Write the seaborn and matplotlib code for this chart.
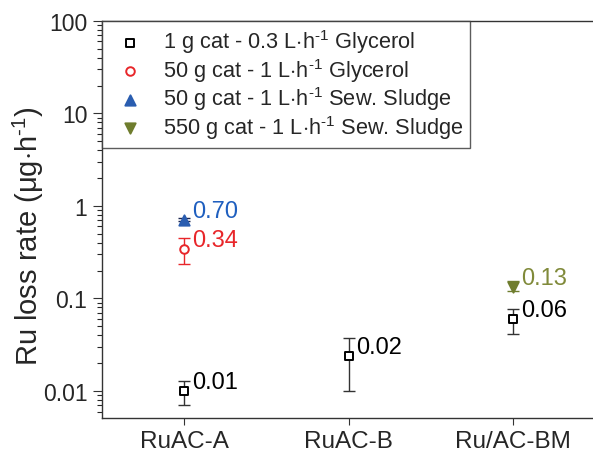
#!/usr/bin/env python3
"""
    Ru loss rate per catalyst, log scale with error bars
"""
import matplotlib
matplotlib.use("Agg")
import matplotlib.pyplot as plt
from matplotlib.ticker import LogLocator, NullFormatter
import seaborn as sns
import pandas as pd

catalysts = ["RuAC-A", "RuAC-B", "Ru/AC-BM"]

series_names = [
    r"1 g cat - 0.3 L$\cdot$h$^{\text{-1}}$ Glycerol",
    r"50 g cat - 1 L$\cdot$h$^{\text{-1}}$ Glycerol",
    r"50 g cat - 1 L$\cdot$h$^{\text{-1}}$ Sew. Sludge",
    r"550 g cat - 1 L$\cdot$h$^{\text{-1}}$ Sew. Sludge",
]
series_cat = [
    ["RuAC-A", "RuAC-B", "Ru/AC-BM"],
    ["RuAC-A"],
    ["RuAC-A"],
    ["Ru/AC-BM"],
]
series_val = [
    [0.0100, 0.024, 0.060],
    [0.34],
    [0.71],
    [0.132],
]
series_lo = [
    [0.0071, 0.0099, 0.041],
    [0.236],
    [0.68],
    [0.120],
]
series_hi = [
    [0.0128, 0.037, 0.077],
    [0.448],
    [0.75],
    [0.153],
]
series_lbl = [
    ["0.01", "0.02", "0.06"],
    ["0.34"],
    ["0.70"],
    ["0.13"],
]

marker_list = ["s", "o", "^", "v"]
face_list = ["white", "white", "#2a5db0", "#6f7d2e"]
edge_list = ["black", "#e8262a", "#2a5db0", "#6f7d2e"]
err_list = ["#333333", "#e8262a", "#1a2550", "#6f7d2e"]
text_list = ["black", "#e8262a", "#1f5fbf", "#808a3a"]
msize = [32, 38, 55, 55]

sns.set_style("ticks")
plt.rcParams["font.family"] = ["Liberation Sans", "DejaVu Sans"]
plt.rcParams["mathtext.fontset"] = "custom"
plt.rcParams["mathtext.rm"] = "Liberation Sans"
plt.rcParams["mathtext.it"] = "Liberation Sans"

rows = []
for name, cats, vals in zip(series_names, series_cat, series_val):
    for c, v in zip(cats, vals):
        rows.append({"cat": catalysts.index(c), "val": v, "series": name})
df = pd.DataFrame(rows)

fig = plt.figure(figsize=(5.93, 4.56), dpi=100)
ax = fig.add_axes([0.172, 0.081, 0.860, 0.871])

for i, name in enumerate(series_names):
    sub = df[df["series"] == name]
    x = sub["cat"].to_numpy()
    y = sub["val"].to_numpy()
    lo = [v - l for v, l in zip(series_val[i], series_lo[i])]
    hi = [h - v for v, h in zip(series_val[i], series_hi[i])]
    ax.errorbar(x, y, yerr=[lo, hi], fmt="none", ecolor=err_list[i],
                elinewidth=1.0, capsize=4, capthick=1.0, zorder=2)
    sns.scatterplot(data=sub, x="cat", y="val", marker=marker_list[i],
                    s=msize[i], facecolor=face_list[i], edgecolor=edge_list[i],
                    linewidth=1.4, label=name, ax=ax, zorder=3)
    for xx, yy, t in zip(x, y, series_lbl[i]):
        ax.annotate(t, (xx, yy), xytext=(5.5, 6.5), textcoords="offset points",
                    fontsize=17, color=text_list[i], va="center", ha="left")

ax.set_yscale("log")
ax.set_ylim(0.0051, 100)
ax.set_xlim(-0.5, 2.6)
ax.set_xticks(range(len(catalysts)))
ax.set_xticklabels(catalysts, fontsize=17.5)
ax.set_yticks([0.01, 0.1, 1, 10, 100])
ax.set_yticklabels(["0.01", "0.1", "1", "10", "100"], fontsize=16.5)
ax.yaxis.set_minor_locator(LogLocator(base=10, subs=range(2, 10), numticks=20))
ax.yaxis.set_minor_formatter(NullFormatter())
ax.set_xlabel("")
ax.set_ylabel(r"Ru loss rate ($\mu$g$\cdot$h$^{\text{-1}}$)", fontsize=21)
ax.yaxis.set_label_coords(-0.11, 0.46)
ax.tick_params(axis="both", direction="out", color="#333333")
ax.tick_params(axis="y", which="major", length=6.5, pad=4)
ax.tick_params(axis="y", which="minor", length=3.5, width=0.8)
ax.tick_params(axis="x", length=5)
for s in ax.spines.values():
    s.set_color("#333333")
    s.set_linewidth(1.0)

leg = ax.legend(loc="upper left", fontsize=15.7, frameon=True, fancybox=False,
                borderaxespad=0, handletextpad=0.5, labelspacing=0.03,
                borderpad=0.3, handlelength=2.0)
leg.get_frame().set_edgecolor("#333333")
leg.get_frame().set_linewidth(1.0)

fig.savefig("out.png", dpi=100)
